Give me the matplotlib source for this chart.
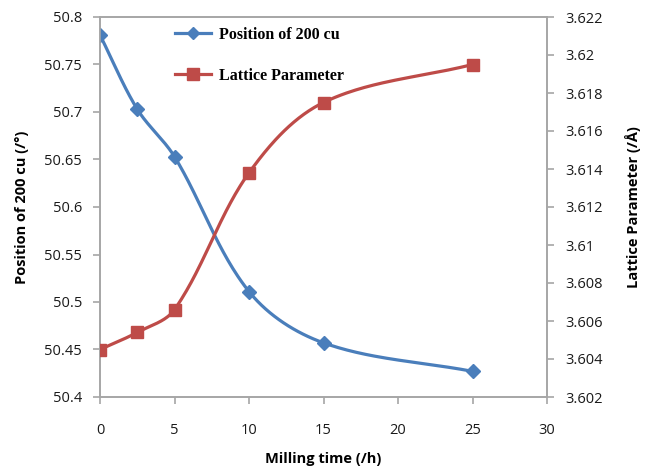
import numpy as np
import matplotlib
matplotlib.use("Agg")
import matplotlib.pyplot as plt

milling_time = [0, 2.5, 5, 10, 15, 25]
position_200 = [50.781, 50.703, 50.653, 50.511, 50.457, 50.427]
lattice_param = [3.6045, 3.6054, 3.6066, 3.6138, 3.6175, 3.6195]

x_ticks = [0, 5, 10, 15, 20, 25, 30]
left_ticks = [50.4, 50.45, 50.5, 50.55, 50.6, 50.65, 50.7, 50.75, 50.8]
left_labels = ["50.4", "50.45", "50.5", "50.55", "50.6", "50.65", "50.7", "50.75", "50.8"]
right_ticks = [3.602, 3.604, 3.606, 3.608, 3.61, 3.612, 3.614, 3.616, 3.618, 3.62, 3.622]
right_labels = ["3.602", "3.604", "3.606", "3.608", "3.61", "3.612", "3.614", "3.616", "3.618", "3.62", "3.622"]

BLUE = "#4A7EBB"
RED = "#BE4B48"
GRAY = "#A6A6A6"

W_PX, H_PX = 447.0, 380.0


def smooth(xs, ys, xlim, ylim, n=50):
    xs = np.asarray(xs, float)
    ys = np.asarray(ys, float)
    # work in pixel-like space
    px = (xs - xlim[0]) / (xlim[1] - xlim[0]) * W_PX
    py = (ys - ylim[0]) / (ylim[1] - ylim[0]) * H_PX
    P = np.column_stack([px, py])
    m = len(P)
    tang = np.zeros_like(P)
    for i in range(m):
        a = P[i - 1] if i > 0 else P[i]
        b = P[i + 1] if i < m - 1 else P[i]
        d = b - a
        tang[i] = d / (np.linalg.norm(d) + 1e-12)
    out = []
    for i in range(m - 1):
        p1, p2 = P[i], P[i + 1]
        L = np.linalg.norm(p2 - p1)
        c1 = p1 + tang[i] * L / 3.0
        c2 = p2 - tang[i + 1] * L / 3.0
        t = np.linspace(0, 1, n)[:, None]
        seg = ((1 - t) ** 3) * p1 + 3 * ((1 - t) ** 2) * t * c1 + 3 * (1 - t) * t ** 2 * c2 + t ** 3 * p2
        out.append(seg if i == 0 else seg[1:])
    S = np.vstack(out)
    rx = S[:, 0] / W_PX * (xlim[1] - xlim[0]) + xlim[0]
    ry = S[:, 1] / H_PX * (ylim[1] - ylim[0]) + ylim[0]
    return rx, ry


XLIM = (0, 30)
YLIM_L = (50.4, 50.8)
YLIM_R = (3.602, 3.622)

fig = plt.figure(figsize=(6.51, 4.71), dpi=100)
ax = fig.add_axes([100 / 651, 1 - 397 / 471, 447 / 651, 380 / 471])
ax2 = ax.twinx()

sx, sy = smooth(milling_time, position_200, XLIM, YLIM_L)
ax.plot(sx, sy, color=BLUE, lw=2.3, zorder=3, solid_capstyle="round")
ax.plot(milling_time, position_200, ls="none", marker="D", ms=7, color=BLUE, zorder=4)
hb, = ax.plot([], [], color=BLUE, lw=2.3, marker="D", ms=6)

rx, ry = smooth(milling_time, lattice_param, XLIM, YLIM_R)
ax2.plot(rx, ry, color=RED, lw=2.3, zorder=3, solid_capstyle="round")
ax2.plot(milling_time, lattice_param, ls="none", marker="s", ms=9, color=RED, zorder=4)
hr, = ax2.plot([], [], color=RED, lw=2.3, marker="s", ms=9)

ax.set_xlim(*XLIM)
ax.set_ylim(*YLIM_L)
ax2.set_ylim(*YLIM_R)
ax.set_xticks(x_ticks)
ax.set_xticklabels([str(v) for v in x_ticks])
ax.set_yticks(left_ticks)
ax.set_yticklabels(left_labels)
ax2.set_yticks(right_ticks)
ax2.set_yticklabels(right_labels)

for a in (ax, ax2):
    for lab in a.get_xticklabels() + a.get_yticklabels():
        lab.set_fontfamily("Open Sans")
        lab.set_fontsize(10.5)
        lab.set_color("#1a1a1a")
    for sp in a.spines.values():
        sp.set_color(GRAY)
        sp.set_linewidth(1.2)
    a.tick_params(axis="both", direction="out", color=GRAY, length=5, width=1.2)
ax.tick_params(axis="x", pad=14)
ax.tick_params(axis="y", pad=8)
ax2.tick_params(axis="y", pad=8)

ax.set_xlabel("Milling time (/h)", family="Open Sans", weight="bold", size=10.5, labelpad=10)
ax.set_ylabel("Position of 200 cu (/°)", family="Open Sans", weight="bold", size=10.5, labelpad=11)
ax2.set_ylabel("Lattice Parameter (/Å)", family="Open Sans", weight="bold", size=10.5,
               rotation=90, labelpad=16)

leg = ax.legend([hb, hr], ["Position of 200 cu", "Lattice Parameter"],
                loc="upper left", bbox_to_anchor=(0.135, 1.012), frameon=False,
                prop=dict(family="Liberation Serif", weight="bold", size=11.5),
                handlelength=2.3, labelspacing=1.55, handletextpad=0.5)

fig.savefig("out.png", dpi=100)
